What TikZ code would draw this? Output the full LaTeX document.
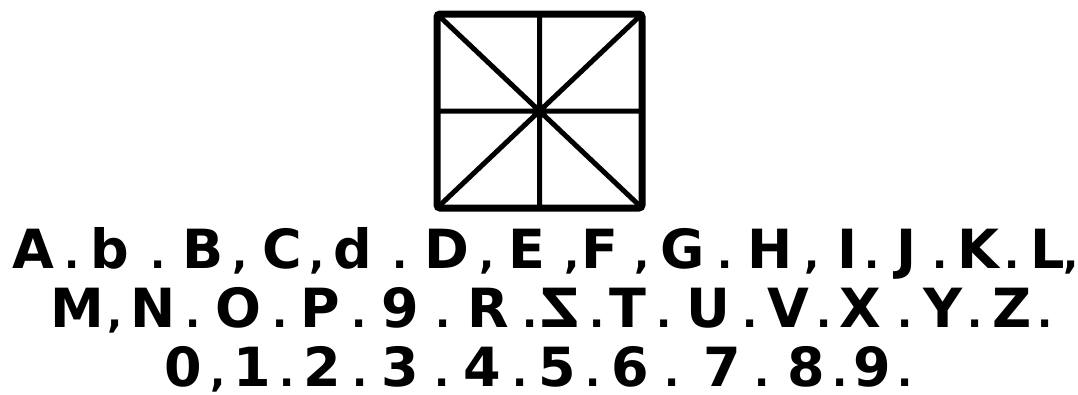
\documentclass[tikz,border=0pt]{standalone}
\usepackage{graphicx}
\usepackage{fontspec}
\setmainfont{DejaVu Sans}
\begin{document}
\begin{tikzpicture}[x=1pt,y=-1pt,
  glyph/.style={anchor=base,inner sep=0pt,font=\bfseries\fontsize{54}{54}\selectfont},
  sep/.style={anchor=base,inner sep=0pt,font=\bfseries\fontsize{40}{40}\selectfont},
  frame/.style={line width=7pt,rounded corners=3pt},
  spoke/.style={line width=5pt}]
\useasboundingbox (0,0) rectangle (1078,394);
% template square
\coordinate (tl) at (437,14);
\coordinate (tr) at (642,14);
\coordinate (bl) at (437,208);
\coordinate (br) at (642,208);
\coordinate (tm) at (539.5,14);
\coordinate (bm) at (539.5,208);
\coordinate (lm) at (437,111);
\coordinate (rm) at (642,111);
\draw[spoke] (tl) -- (br) (tr) -- (bl) (tm) -- (bm) (lm) -- (rm);
\draw[frame] (tl) rectangle (br);
% line 1
\foreach \x/\c [count=\i] in {33/A,110/b,203/B,282/C,353/d,447/D,527/E,600/F,683/G,770/H,848/I,907/J,978/K,1048/L}
  \node[glyph] (p\i) at (\x,268) {\c};
\foreach \x/\c [count=\i] in {72/.,158/.,240/{,},317/{,},400/.,487/{,},572/{,},642/{,},725/.,812/{,},872/.,940/.,1012/.,1071/{,}}
  \node[sep] (ps\i) at (\x,268) {\c};
% line 2
\foreach \x/\c [count=\i] in {77/M,153/N,238/O,320/P,400/9,488/R,560/{\reflectbox{Z}},628/T,708/U,788/V,860/X,943/Y,1012/Z}
  \node[glyph] (q\i) at (\x,327) {\c};
\foreach \x/\c [count=\i] in {115/{,},193/.,280/.,359/.,443/.,530/.,597/.,664/.,750/.,824/.,905/.,975/.,1045/.}
  \node[sep] (qs\i) at (\x,327) {\c};
% line 3
\foreach \x/\c [count=\i] in {183/0,252/1,322/2,400/3,482/4,557/5,630/6,722/7,806/8,872/9}
  \node[glyph] (r\i) at (\x,386) {\c};
\foreach \x/\c [count=\i] in {218/{,},287/.,360/.,442/.,520/.,593/.,672/.,762/.,840/.,905/.}
  \node[sep] (rs\i) at (\x,386) {\c};
\end{tikzpicture}
\end{document}
